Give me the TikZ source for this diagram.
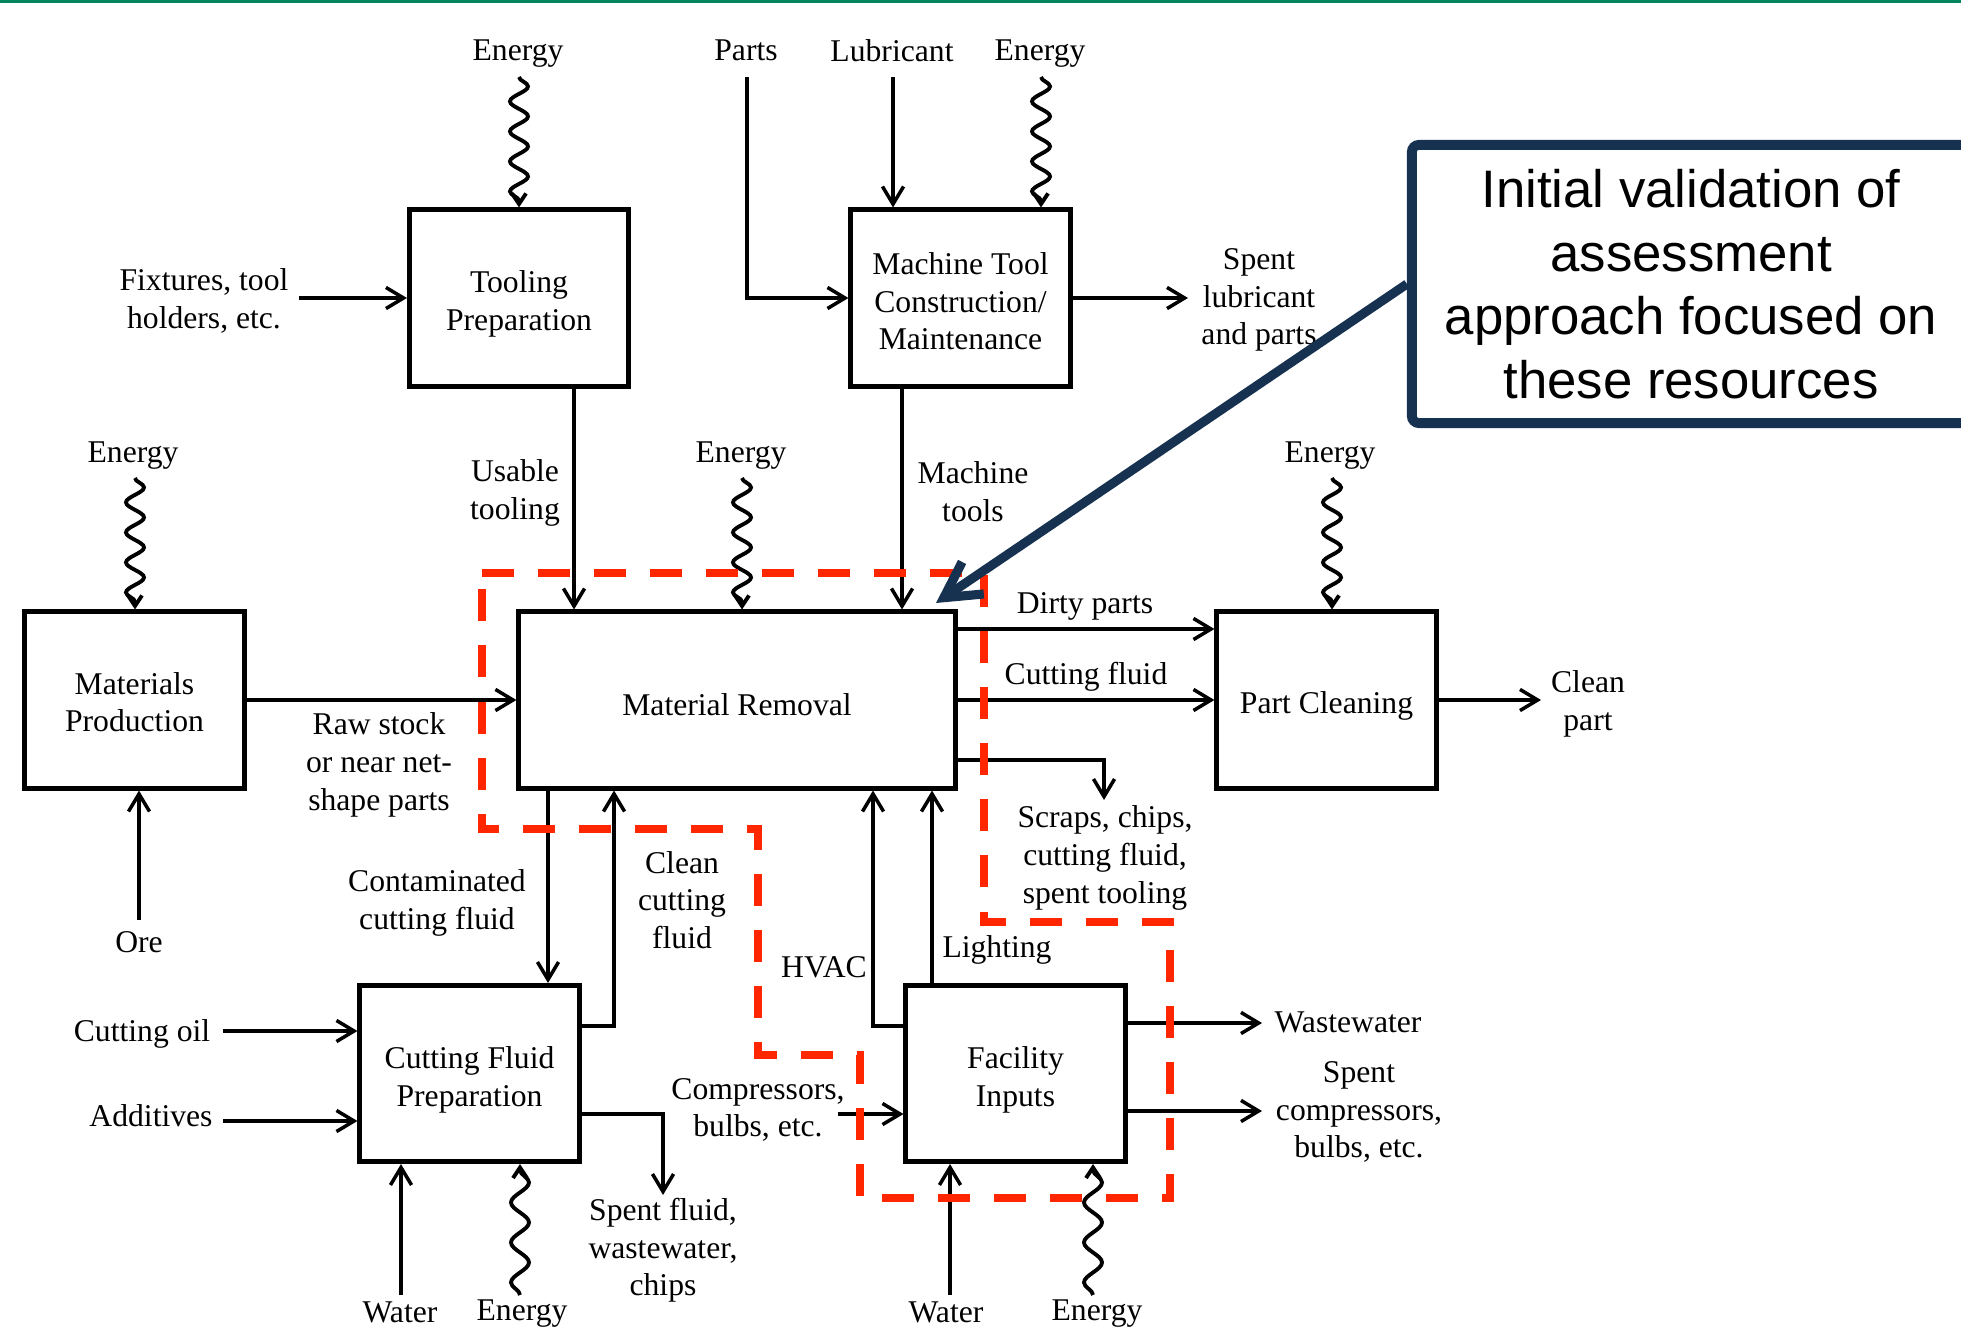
\documentclass[tikz,border=0pt]{standalone}
\usepackage{fontspec}
\setmainfont{Liberation Serif}
\newfontfamily\notefont{Liberation Sans}
\usetikzlibrary{arrows.meta,decorations.pathmorphing}

\definecolor{focusred}{RGB}{255,38,0}
\definecolor{notenavy}{RGB}{23,50,80}
\definecolor{bargreen}{RGB}{0,133,94}

% raises the first line of a box text so the text sits a bit lower
\newcommand\blockgap[1]{\rule{0pt}{#1}}

\begin{document}
\begin{tikzpicture}[x=0.01cm,y=-0.01cm,
  font=\fontsize{9}{10.7}\selectfont,
  block/.style={draw,line width=1.4pt,minimum width=2.19cm,minimum height=1.76cm,align=center,inner sep=1pt},
  lbl/.style={align=center,inner sep=0pt,yshift=-0.03cm},
  flow/.style={line width=1pt,-{Straight Barb[length=5pt,width=6pt]}},
  energy/.style={line width=1.1pt,decorate,decoration={snake,amplitude=0.09cm,segment length=0.3cm,post length=0.05cm},-{Straight Barb[length=3pt,width=4pt]}},
  focus/.style={draw=focusred,line width=2.5pt,dash pattern=on 0.32cm off 0.24cm},
  note/.style={draw=notenavy,line width=2.8pt,rounded corners=2pt,minimum width=5.58cm,minimum height=2.78cm,align=center,font=\notefont\fontsize{15}{18.1}\selectfont},
  pointer/.style={draw=notenavy,line width=2.6pt,-{Straight Barb[length=10pt,width=11pt]}}
]
	\useasboundingbox (0,0) rectangle (1961,1328);
	\clip (0,0) rectangle (1961,1328);
	\draw[bargreen,line width=0.9pt] (0,1.5) -- (1961,1.5);

	% processes
	\node[block] at (519,298)     (tool)  {\blockgap{9.7pt}Tooling\\Preparation};
	\node[block] at (960.5,298)   (mach)  {\blockgap{8.2pt}Machine Tool\\Construction/\\Maintenance};
	\node[block] at (134.5,700)   (matp)  {\blockgap{7.5pt}Materials\\Production};
	\node[block,minimum width=4.36cm] at (737,700) (remv) {\blockgap{9pt}Material Removal};
	\node[block] at (1326.5,700)  (clean) {\blockgap{9.5pt}Part Cleaning};
	\node[block] at (469.5,1073.5) (cfp)  {\blockgap{9.7pt}Cutting Fluid\\Preparation};
	\node[block] at (1015.5,1073.5) (fac) {\blockgap{9.7pt}Facility\\Inputs};

	% labels
	\node[lbl] at (518,51)    (enA)    {Energy};
	\node[lbl] at (746,47.5)  (parts)  {Parts};
	\node[lbl] at (892,47.5)  (lubr)   {Lubricant};
	\node[lbl] at (1040,51)   (enB)    {Energy};
	\node[lbl] at (204,298)   (fix)    {Fixtures, tool\\holders, etc.};
	\node[lbl] at (1259,297)  (slub)   {Spent\\lubricant\\and parts};
	\node[lbl] at (133,453)   (enC)    {Energy};
	\node[lbl] at (515,490)   (usable) {Usable\\tooling};
	\node[lbl] at (973,488.5) (mtools) {Machine\\tools};
	\node[lbl] at (741,453)   (enD)    {Energy};
	\node[lbl] at (1330,453)  (enE)    {Energy};
	\node[lbl] at (379,762)   (raw)    {Raw stock\\or near net-\\shape parts};
	\node[lbl] at (1085,603)  (dirty)  {Dirty parts};
	\node[lbl] at (1086,674)  (cflu)   {Cutting fluid};
	\node[lbl] at (1588,701)  (cpart)  {Clean\\part};
	\node[lbl] at (1105,855)  (scraps) {Scraps, chips,\\cutting fluid,\\spent tooling};
	\node[lbl] at (139,939.5) (ore)    {Ore};
	\node[lbl] at (437,900)   (contam) {Contaminated\\cutting fluid};
	\node[lbl] at (682,897)   (ccfl)   {Clean\\cutting\\fluid};
	\node[lbl] at (824,964.5) (hvac)   {HVAC};
	\node[lbl] at (997,947)   (light)  {Lighting};
	\node[lbl] at (142,1031)  (oil)    {Cutting oil};
	\node[lbl] at (151,1112.5) (addv)  {Additives};
	\node[lbl] at (758,1107)  (comp)   {Compressors,\\bulbs, etc.};
	\node[lbl] at (663,1247.5) (sfl)   {Spent fluid,\\wastewater,\\chips};
	\node[lbl] at (1348,1019.5) (ww)   {Wastewater};
	\node[lbl] at (1359,1109) (scomp)  {Spent\\compressors,\\bulbs, etc.};
	\node[lbl] at (400,1309)  (watA)   {Water};
	\node[lbl] at (522,1311)  (enF)    {Energy};
	\node[lbl] at (946,1309)  (watB)   {Water};
	\node[lbl] at (1097,1311) (enG)    {Energy};

	% free ends and bends
	\coordinate (eTool) at (519,77);
	\coordinate (eMach) at (1041,77);
	\coordinate (pTop)  at (747,77);
	\coordinate (lTop)  at (893,77);
	\coordinate (fixS)  at (299,298);
	\coordinate (slubE) at (1188,298);
	\coordinate (eMatp) at (135,478);
	\coordinate (eRemv) at (742,478);
	\coordinate (eClean) at (1332,478);
	\coordinate (utX)   at (574,500);
	\coordinate (mtX)   at (902,500);
	\coordinate (oreS)  at (139,920);
	\coordinate (dpY)   at (1083,629);
	\coordinate (scrB)  at (1104,760);
	\coordinate (scrE)  at (1104,800);
	\coordinate (cpE)   at (1541,700);
	\coordinate (ctX)   at (548,900);
	\coordinate (ccB)   at (614,1026);
	\coordinate (hvB)   at (873,1026);
	\coordinate (ltX)   at (932,900);
	\coordinate (oilS)  at (223,1031);
	\coordinate (addS)  at (223,1121);
	\coordinate (sfB)   at (663,1114);
	\coordinate (sfE)   at (663,1195);
	\coordinate (compS) at (838,1114);
	\coordinate (wwE)   at (1262,1023);
	\coordinate (scE)   at (1262,1111);
	\coordinate (wA)    at (401,1295);
	\coordinate (eCfp)  at (520,1295);
	\coordinate (wB)    at (950,1295);
	\coordinate (eFac)  at (1093,1295);
	\coordinate (ptr)   at (936,603);

	% draw edges
	\draw[energy] (eTool) -- (tool.north);
	\draw[energy] (eMach) -- (eMach |- mach.north);
	\draw[flow] (pTop) |- (mach.west);
	\draw[flow] (lTop) -- (lTop |- mach.north);
	\draw[flow] (fixS) -- (tool.west);
	\draw[flow] (mach.east) -- (slubE);

	\draw[energy] (eMatp) -- (eMatp |- matp.north);
	\draw[energy] (eRemv) -- (eRemv |- remv.north);
	\draw[energy] (eClean) -- (eClean |- clean.north);
	\draw[flow] (utX |- tool.south) -- (utX |- remv.north);
	\draw[flow] (mtX |- mach.south) -- (mtX |- remv.north);

	\draw[flow] (matp.east) -- (remv.west);
	\draw[flow] (oreS) -- (oreS |- matp.south);
	\draw[flow] (dpY -| remv.east) -- (dpY -| clean.west);
	\draw[flow] (remv.east) -- (clean.west);
	\draw[flow] (scrB -| remv.east) -- (scrB) -- (scrE);
	\draw[flow] (clean.east) -- (cpE);

	\draw[flow] (ctX |- remv.south) -- (ctX |- cfp.north);
	\draw[flow] (ccB -| cfp.east) -| (ccB |- remv.south);
	\draw[flow] (hvB -| fac.west) -| (hvB |- remv.south);
	\draw[flow] (ltX |- fac.north) -- (ltX |- remv.south);

	\draw[flow] (oilS) -- (oilS -| cfp.west);
	\draw[flow] (addS) -- (addS -| cfp.west);
	\draw[flow] (wA) -- (wA |- cfp.south);
	\draw[energy,decoration={segment length=0.4cm}] (eCfp) -- (eCfp |- cfp.south);
	\draw[flow] (sfB -| cfp.east) -- (sfB) -- (sfE);

	\draw[flow] (compS) -- (compS -| fac.west);
	\draw[flow] (wwE -| fac.east) -- (wwE);
	\draw[flow] (scE -| fac.east) -- (scE);
	\draw[flow] (wB) -- (wB |- fac.south);
	\draw[energy,decoration={segment length=0.4cm}] (eFac) -- (eFac |- fac.south);

	% focus area
	\draw[focus] (482,573) -- (984,573) -- (984,922) -- (1170,922) -- (1170,1198)
	  -- (860,1198) -- (860,1055) -- (758,1055) -- (758,829) -- (482,829) -- cycle;

	% callout
	\node[note] at (1691,284) (note) {Initial validation of\\assessment\\approach focused on\\these resources};
	\draw[pointer] (note.west) -- (ptr);
\end{tikzpicture}
\end{document}
